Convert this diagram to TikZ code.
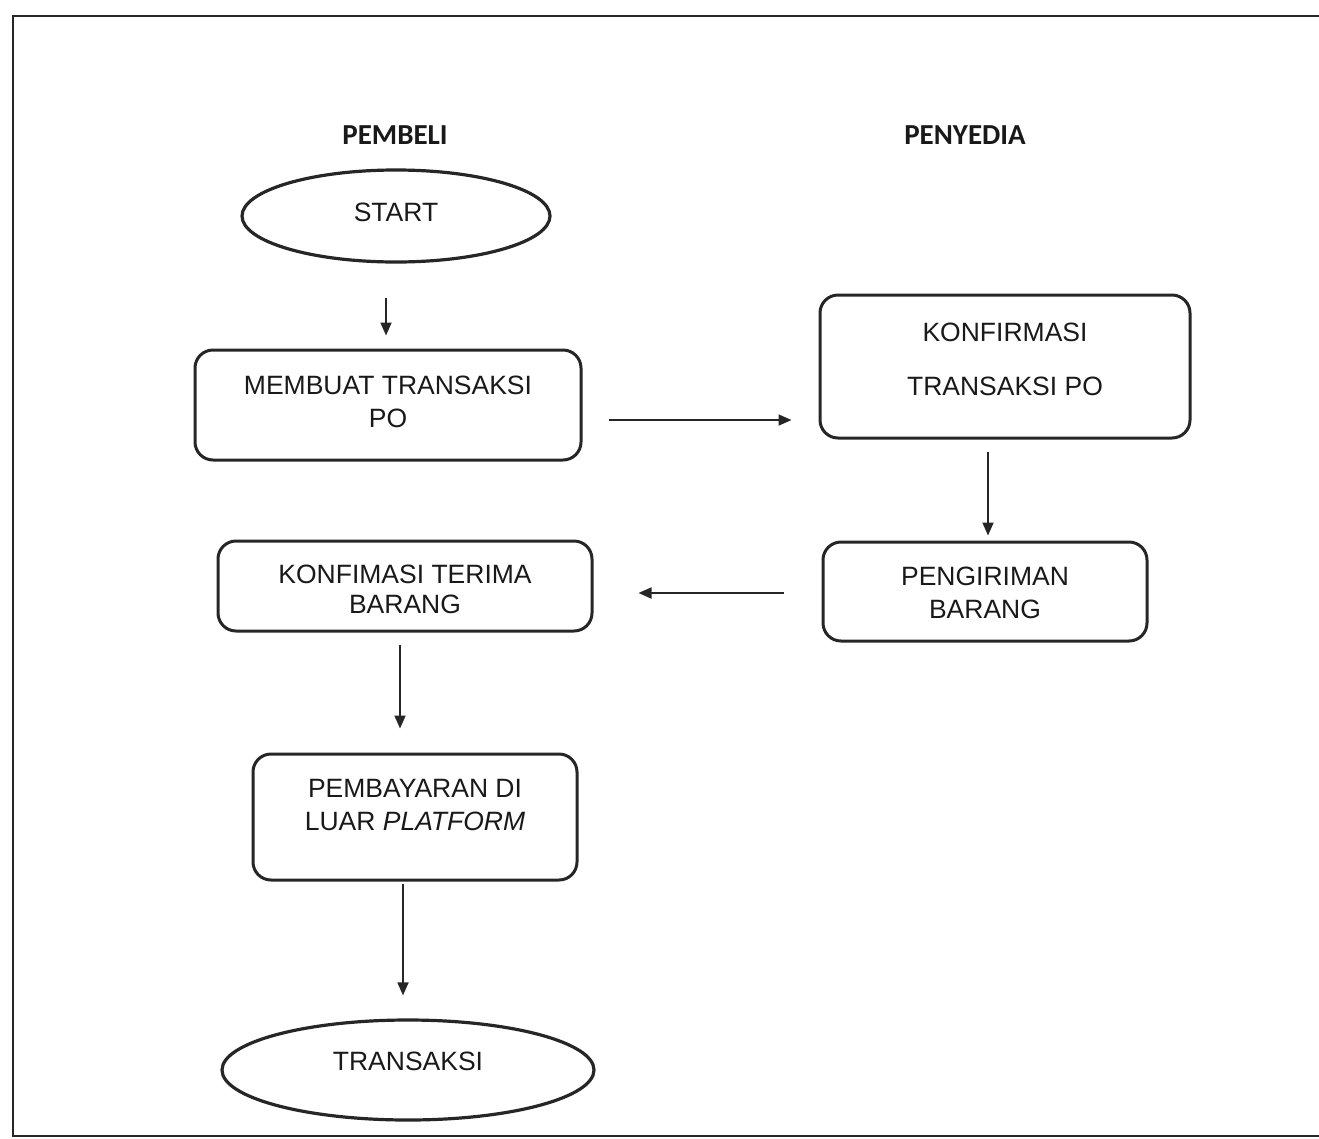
\documentclass[tikz,border=0pt]{standalone}
\usepackage{fontspec}
\setmainfont{Liberation Sans}
\newfontfamily\hdrfont{Carlito}
\usetikzlibrary{shapes.geometric,arrows.meta}
\begin{document}
\begin{tikzpicture}[x=1pt,y=-1pt,
  txt/.style={font=\fontsize{26.5}{33}\selectfont, align=center, inner sep=0pt, text=black!90},
  hdr/.style={font=\hdrfont\bfseries\fontsize{29}{34}\selectfont, inner sep=0pt, text=black!90},
  box/.style={draw=black!85, line width=3pt, rounded corners=18pt, inner sep=0pt},
  ell/.style={draw=black!85, ellipse, line width=3.2pt, inner sep=0pt},
  arr/.style={draw=black!85, line width=1.8pt, -{Triangle[length=13pt,width=11pt]}}]
\useasboundingbox (0,0) rectangle (1319,1138);
\draw[black!85, line width=2.4pt] (1319,16) -- (13,16) -- (13,1136) -- (1319,1136);

% headers
\node[hdr] (h1) at (395,135) {PEMBELI};
\node[hdr] (h2) at (965,135) {PENYEDIA};

% shapes
\node[ell, minimum width=308pt, minimum height=92pt] (start) at (396,216) {};
\node[box, minimum width=386pt, minimum height=110pt] (b1) at (388,405) {};
\node[box, minimum width=370pt, minimum height=143pt] (b2) at (1005,366.5) {};
\node[box, minimum width=324pt, minimum height=99pt] (b3) at (985,591.5) {};
\node[box, minimum width=374pt, minimum height=90pt] (b4) at (405,586) {};
\node[box, minimum width=324pt, minimum height=126pt] (b5) at (415,817) {};
\node[ell, minimum width=372pt, minimum height=100pt] (end) at (408,1070) {};

% texts
\node[txt] (start-t) at (396,212) {START};
\node[txt] (b1-t) at (388,401.5) {MEMBUAT TRANSAKSI\\PO};
\node[txt] (b2-t) at (1005,359.5) {KONFIRMASI\\[21pt]TRANSAKSI PO};
\node[txt] (b3-t) at (985,592.5) {PENGIRIMAN\\BARANG};
\node[txt] (b4-t) at (405,589) {KONFIMASI TERIMA\\[-3pt]BARANG};
\node[txt] (b5-t) at (415,805) {PEMBAYARAN DI\\LUAR \textit{PLATFORM}};
\node[txt] (end-t) at (408,1061) {TRANSAKSI};

% connectors
\draw[arr, shorten <=34pt, shorten >=13pt] (start.south -| 386,0) -- (b1.north -| 386,0);
\draw[arr, shorten <=26pt, shorten >=27pt] (b1.east |- 0,420) -- (b2.west |- 0,420);
\draw[arr, shorten <=12pt, shorten >=5pt] (b2.south -| 988,0) -- (b3.north -| 988,0);
\draw[arr, shorten <=38pt, shorten >=45pt] (b3.west |- 0,593) -- (b4.east |- 0,593);
\draw[arr, shorten <=12pt, shorten >=24pt] (b4.south -| 400,0) -- (b5.north -| 400,0);
\draw[arr, shorten <=2pt, shorten >=23pt] (b5.south -| 403,0) -- (end.north -| 403,0);
\end{tikzpicture}
\end{document}
